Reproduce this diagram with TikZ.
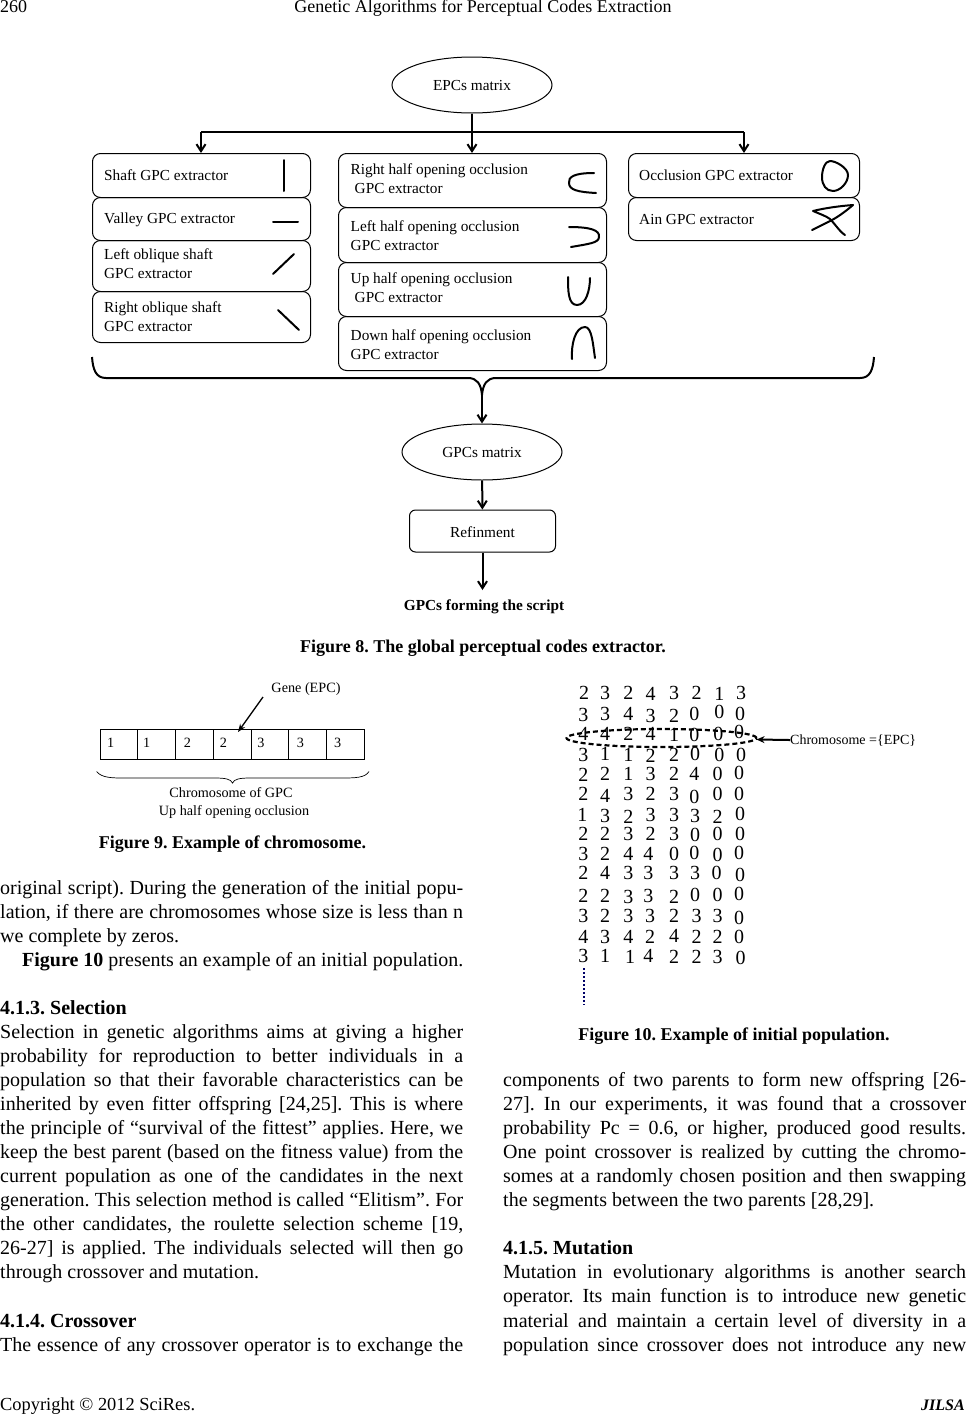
\documentclass[tikz,border=0pt]{standalone}
\usepackage{fontspec}
\setmainfont{Liberation Serif}
\usepackage{tikz}
\usetikzlibrary{arrows.meta,shapes.geometric}
\frenchspacing
\tikzset{
	gpcbox/.style={draw, rounded corners=8pt, line width=1pt, anchor=north west, inner sep=0pt},
	boxtext/.style={anchor=west, align=left, yshift=-0.5pt, font=\fontsize{15.3}{19}\selectfont, inner sep=0pt},
	oval/.style={ellipse, draw, line width=1pt, inner sep=0pt, text height=12pt, font=\fontsize{15.3}{19}\selectfont},
	flow/.style={line width=2pt, -{Straight Barb[length=7pt,width=9pt]}},
	glyph/.style={line width=2pt, line cap=round, line join=round},
	cell/.style={draw, line width=1pt, minimum height=30pt, anchor=north west, inner sep=0pt},
	digit/.style={font=\fontsize{20}{20}\selectfont, inner sep=0pt},
	small/.style={font=\fontsize{14.2}{18}\selectfont, inner sep=0pt, text height=10pt, text depth=3pt, yshift=-2pt},
	bodyline/.style={anchor=west, inner sep=0pt, text height=14pt, text depth=4pt, yshift=-2pt, font=\fontsize{20}{24}\selectfont},
	caption/.style={inner sep=0pt, text height=13pt, text depth=4pt, yshift=-2pt, font=\bfseries\fontsize{18}{21}\selectfont}
}
\newcommand{\jline}[1]{\hbox to 463pt{#1}}
\begin{document}
\begin{tikzpicture}[x=1pt,y=-1pt]
	\useasboundingbox (0,0) rectangle (966,1414);
	% running head
	\node[bodyline, font=\fontsize{18}{22}\selectfont] (page) at (0,5.5) {260};
	\node[bodyline, anchor=center, font=\fontsize{18}{22}\selectfont] (head) at (483,5.5) {Genetic Algorithms for Perceptual Codes Extraction};
	% figure 8
	\node[oval, minimum width=160pt, minimum height=56pt] (epc) at (472,85) {EPCs matrix};
	\coordinate (fork) at (472,132);
	\coordinate (forkl) at (201,132);
	\coordinate (forkr) at (744,132);
	\node[gpcbox, minimum width=218pt, minimum height=44pt] (a1) at (92,153) {};
	\node[gpcbox, minimum width=218pt, minimum height=43pt] (a2) at (92,197) {};
	\node[gpcbox, minimum width=218pt, minimum height=51pt] (a3) at (92,240) {};
	\node[gpcbox, minimum width=218pt, minimum height=51pt] (a4) at (92,291) {};
	\node[gpcbox, minimum width=268pt, minimum height=54pt] (b1) at (338,153) {};
	\node[gpcbox, minimum width=268pt, minimum height=55pt] (b2) at (338,207) {};
	\node[gpcbox, minimum width=268pt, minimum height=54pt] (b3) at (338,262) {};
	\node[gpcbox, minimum width=268pt, minimum height=54pt] (b4) at (338,316) {};
	\node[gpcbox, minimum width=231pt, minimum height=44pt] (c1) at (628,153) {};
	\node[gpcbox, minimum width=231pt, minimum height=43pt] (c2) at (628,197) {};
	\node[boxtext] (ta1) at (104,175) {Shaft GPC extractor};
	\node[boxtext] (ta2) at (104,219) {Valley GPC extractor};
	\node[boxtext] (ta3) at (104,263.5) {Left oblique shaft\\GPC extractor};
	\node[boxtext] (ta4) at (104,316.5) {Right oblique shaft\\GPC extractor};
	\node[boxtext] (tb1) at (350.5,178.5) {Right half opening occlusion\\\hspace{4pt}GPC extractor};
	\node[boxtext] (tb2) at (350.5,235) {Left half opening occlusion\\GPC extractor};
	\node[boxtext] (tb3) at (350.5,287) {Up half opening occlusion\\\hspace{4pt}GPC extractor};
	\node[boxtext] (tb4) at (350.5,344) {Down half opening occlusion\\GPC extractor};
	\node[boxtext] (tc1) at (639,175) {Occlusion GPC extractor};
	\node[boxtext] (tc2) at (639,219) {Ain GPC extractor};
	\draw[line width=2pt] (epc) -- (fork);
	\draw[line width=2pt] (forkl) -- (forkr);
	\draw[flow] (forkl) -- (a1.north -| forkl);
	\draw[flow] (fork) -- (b1.north -| fork);
	\draw[flow] (forkr) -- (c1.north -| forkr);
	% the hand drawn strokes
	\draw[glyph] (284,160) -- (284,191);
	\draw[glyph] (273,222) -- (298,222);
	\draw[glyph] (273,274) -- (294,254);
	\draw[glyph] (278,310) -- (299,330);
	\draw[glyph] (594,173) .. controls (574,173) and (568,177) .. (569,183) .. controls (569,190) and (578,192) .. (596,193);
	\draw[glyph] (569,227) .. controls (590,227) and (600,230) .. (599,237) .. controls (599,243) and (588,244) .. (571,247);
	\draw[glyph] (568,277) .. controls (568,290) and (568,305) .. (577,305) .. controls (586,305) and (590,290) .. (590,278);
	\draw[glyph] (572,359) .. controls (571,345) and (575,327) .. (585,327) .. controls (592,327) and (593,345) .. (595,358);
	\draw[glyph] (830,161) .. controls (836,161) and (848,168) .. (848,175) .. controls (848,183) and (840,191) .. (833,191) .. controls (826,191) and (822,185) .. (822,177) .. controls (822,170) and (825,161) .. (830,161) -- cycle;
	\draw[glyph] (853,205) .. controls (840,206) and (825,208) .. (813,211) .. controls (820,214) and (826,216) .. (830,219) .. controls (835,224) and (840,232) .. (845,235);
	\draw[glyph] (853,205) .. controls (845,212) and (835,219) .. (828,222) -- (812,230);
	% curly bracket
	\coordinate (tip) at (482,395);
	\draw[line width=2pt] (92,357) .. controls (93,370) and (96,378) .. (106,378) -- (468,378) .. controls (477,378) and (481,384) .. (tip) .. controls (483,384) and (487,378) .. (496,378) -- (860,378) .. controls (870,378) and (873,370) .. (874,357);
	\node[oval, minimum width=160pt, minimum height=56pt] (gpc) at (482,452) {GPCs matrix};
	\node[gpcbox, anchor=center, rounded corners=6pt, minimum width=146pt, minimum height=42pt, text height=13pt, font=\fontsize{15.3}{19}\selectfont] (ref) at (482.5,531) {Refinment};
	\node[inner sep=0pt, text height=11pt, text depth=3pt, yshift=-1pt, font=\bfseries\fontsize{15.3}{18}\selectfont] (out) at (484,605) {GPCs forming the script};
	\coordinate (outend) at (482.5,590);
	\draw[flow] (tip) -- (gpc);
	\draw[flow] (gpc) -- (ref);
	\draw[flow] (ref) -- (outend);
	\node[caption] (cap8) at (483,646) {Figure 8. The global perceptual codes extractor.};
	% figure 9
	\foreach \n/\x/\w/\d/\dx in {1/99.5/37.5/1/110.7,2/137/37.5/1/146.7,3/174.5/38/2/187.3,4/212.5/38/2/223.3,5/250.5/37.5/3/261,6/288/38/3/300.3,7/326/38/3/337.7} {
		\node[cell, minimum width=\w pt] (g\n) at (\x,729) {};
		\node[small] (v\n) at (\dx,742) {\d};
	}
	\node[small] (gene) at (306,687) {Gene (EPC)};
	\coordinate (genefrom) at (263,697);
	\coordinate (geneto) at (238,732);
	\draw[line width=1.3pt, -{Stealth[length=8pt,width=6pt]}] (genefrom) -- (geneto);
	\draw[line width=.7pt] (96.5,771.5) .. controls (102,778) and (112,778) .. (125,778) -- (215,778) .. controls (225,778) and (231,779) .. (232.5,783) .. controls (234,779) and (240,778) .. (250,778) -- (340,778) .. controls (355,778) and (365,778) .. (369,771.5);
	\node[small] (chr) at (231,792) {Chromosome of GPC};
	\node[small] (uph) at (234,810) {Up half opening occlusion};
	\node[caption] (cap9) at (232.5,842) {Figure 9. Example of chromosome.};
	% figure 10
	\foreach \d/\x/\y [count=\n] in {
		2/72/65,3/135/65,2/205/65,4/272/70,3/342/65,2/410/65,1/478/70,3/543/65,
		3/70/133,3/135/128,4/205/130,3/272/135,2/342/135,0/403/128,0/478/124,0/540/128,
		4/70/190,4/135/190,2/205/188,4/272/190,1/342/192,0/403/192,0/475/190,0/537/183,
		3/70/252,1/135/250,1/205/252,2/272/255,2/342/252,0/405/250,0/478/252,0/543/252,
		2/70/312,2/135/310,1/205/310,3/272/310,2/342/310,4/403/310,0/473/310,0/537/305,
		2/70/368,4/135/375,3/205/368,2/272/368,3/342/368,0/403/378,0/473/368,0/537/368,
		1/67/433,3/135/435,2/205/437,3/272/433,3/342/433,3/405/435,2/473/437,0/540/430,
		2/70/490,2/135/490,3/205/490,2/272/490,3/342/490,0/405/492,0/473/490,0/540/490,
		3/70/548,2/135/548,4/205/550,4/265/550,0/342/550,0/403/546,0/473/552,0/537/546,
		2/70/605,4/135/605,3/205/605,3/265/605,3/342/605,3/405/605,0/470/605,0/540/612,
		2/70/675,2/135/675,3/205/678,3/265/675,2/342/678,0/405/672,0/473/672,0/537/670,
		3/70/735,2/135/735,3/205/735,3/270/735,2/342/735,3/410/735,3/473/735,0/537/740,
		4/70/797,3/135/797,4/205/797,2/270/797,4/342/795,2/410/797,2/473/797,0/537/797,
		3/70/855,1/135/855,1/210/858,4/265/855,2/342/858,2/410/858,3/473/858,0/542/860} {
		\node[digit] (d\n) at ({560+\x/3},{671+\y/3}) {\d};
	}
	\node[ellipse, draw, line width=2.2pt, dash pattern=on 5pt off 3pt, minimum width=190pt, minimum height=18pt, inner sep=0pt] (row) at (661.5,738) {};
	\node[small, anchor=west, font=\fontsize{14}{18}\selectfont] (chrom) at (790,739) {Chromosome =\{EPC\}};
	\draw[line width=2pt, -{Stealth[length=8pt,width=7pt]}] (chrom) -- (row);
	\draw[line width=2pt, dash pattern=on 2pt off 2pt, color=blue!40!black] (584,968) -- (584,1005);
	\node[caption] (cap10) at (734,1034) {Figure 10. Example of initial population.};
	% body text, left column
	\node[bodyline] (l1) at (0,887) {\jline{original script). During the generation of the initial popu-}};
	\node[bodyline] (l2) at (0,911) {\jline{lation, if there are chromosomes whose size is less than n}};
	\node[bodyline] (l3) at (0,935) {we complete by zeros.};
	\node[bodyline] (l4) at (22,959) {\textbf{Figure 10} presents an example of an initial population.};
	\node[bodyline] (l5) at (0,1007) {\textbf{4.1.3. Selection}};
	\node[bodyline] (l6) at (0,1031) {\jline{Selection in genetic algorithms aims at giving a higher}};
	\node[bodyline] (l7) at (0,1055) {\jline{probability for reproduction to better individuals in a}};
	\node[bodyline] (l8) at (0,1079) {\jline{population so that their favorable characteristics can be}};
	\node[bodyline] (l9) at (0,1103) {\jline{inherited by even fitter offspring [24,25]. This is where}};
	\node[bodyline] (l10) at (0,1127) {\jline{the principle of “survival of the fittest” applies. Here, we}};
	\node[bodyline] (l11) at (0,1151) {\jline{keep the best parent (based on the fitness value) from the}};
	\node[bodyline] (l12) at (0,1175) {\jline{current population as one of the candidates in the next}};
	\node[bodyline] (l13) at (0,1199) {\jline{generation. This selection method is called “Elitism”. For}};
	\node[bodyline] (l14) at (0,1223) {\jline{the other candidates, the roulette selection scheme [19,}};
	\node[bodyline] (l15) at (0,1247) {\jline{26-27] is applied. The individuals selected will then go}};
	\node[bodyline] (l16) at (0,1271) {through crossover and mutation.};
	\node[bodyline] (l17) at (0,1320) {\textbf{4.1.4. Crossover}};
	\node[bodyline] (l18) at (0,1344) {\jline{The essence of any crossover operator is to exchange the}};
	% body text, right column
	\node[bodyline] (r1) at (503,1079) {\jline{components of two parents to form new offspring [26-}};
	\node[bodyline] (r2) at (503,1103) {\jline{27]. In our experiments, it was found that a crossover}};
	\node[bodyline] (r3) at (503,1127) {\jline{probability Pc = 0.6, or higher, produced good results.}};
	\node[bodyline] (r4) at (503,1151) {\jline{One point crossover is realized by cutting the chromo-}};
	\node[bodyline] (r5) at (503,1175) {\jline{somes at a randomly chosen position and then swapping}};
	\node[bodyline] (r6) at (503,1199) {the segments between the two parents [28,29].};
	\node[bodyline] (r7) at (503,1247) {\textbf{4.1.5. Mutation}};
	\node[bodyline] (r8) at (503,1271) {\jline{Mutation in evolutionary algorithms is another search}};
	\node[bodyline] (r9) at (503,1295) {\jline{operator. Its main function is to introduce new genetic}};
	\node[bodyline] (r10) at (503,1320) {\jline{material and maintain a certain level of diversity in a}};
	\node[bodyline] (r11) at (503,1344) {\jline{population since crossover does not introduce any new}};
	% foot
	\node[bodyline, font=\fontsize{18.4}{22}\selectfont] (copy) at (0,1403) {Copyright © 2012 SciRes.};
	\node[bodyline, anchor=east, font=\bfseries\itshape\fontsize{16}{20}\selectfont] (jilsa) at (965,1403) {JILSA};
\end{tikzpicture}
\end{document}
